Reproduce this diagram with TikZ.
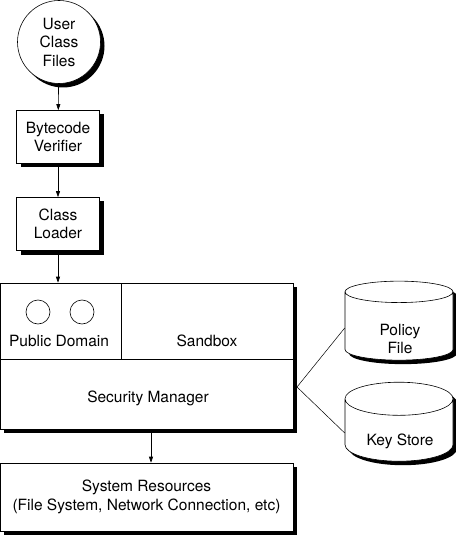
\documentclass[tikz,border=0pt]{standalone}
\usepackage{fontspec}
\setmainfont{TeX Gyre Heros}
\usetikzlibrary{positioning, arrows.meta, shapes.geometric, shadows}

\tikzset{
  shd/.style={drop shadow={shadow xshift=4pt, shadow yshift=-4pt, fill=black, opacity=1}},
}

\begin{document}
\begin{tikzpicture}[
  x=1pt, y=-1pt,
  font=\fontsize{15.5}{18.5}\selectfont,
  stepbox/.style={
    rectangle, draw, fill=white, line width=0.6pt, shd,
    minimum width=83pt, minimum height=53pt, align=center
  },
  srcfile/.style={
    circle, draw, fill=white, line width=0.6pt, shd,
    minimum size=83pt, inner sep=0pt, align=center
  },
  store/.style={
    cylinder, shape border rotate=90, draw, fill=white, line width=0.6pt, shd,
    aspect=0.45, minimum width=108pt, minimum height=79pt, align=center
  },
  domobj/.style={circle, draw, line width=0.6pt, minimum size=24pt, inner sep=0pt},
  arr/.style={-{Triangle[length=6pt, width=4pt]}, line width=0.6pt},
  link/.style={line width=0.5pt},
]
\useasboundingbox (0,0) rectangle (455,537);

% Ablauf
\node[srcfile] (userfiles) at (59,42) {User\\Class\\Files};
\node[stepbox] (verifier) at (58,137) {Bytecode\\Verifier};
\node[stepbox] (loader) at (58,224) {Class\\Loader};

% Security block
\node[rectangle, draw, fill=white, line width=0.6pt, shd,
      minimum width=293pt, minimum height=146pt] (mainbox) at (146.5,356) {};
\draw[line width=0.6pt] (0,359) -- (293,359);
\draw[line width=0.6pt] (121,283) -- (121,359);
\node[domobj] (objA) at (38,312) {};
\node[domobj] (objB) at (82,312) {};
\node (pubdom) at (59,341) {Public Domain};
\node (sandbox) at (207,341) {Sandbox};
\node (secmgr) at (148,398) {Security Manager};
\coordinate (hub) at (297,387);

\node[rectangle, draw, fill=white, line width=0.6pt, shd,
      minimum width=293pt, minimum height=68pt, align=center] (sysres) at (146.5,497)
  {System Resources\\(File System, Network Connection, etc)};

% Stores
\node[store] (policy) at (399,328) {\phantom{Policy}\\\phantom{File}};
\node[align=center] (policytxt) at (400,339) {Policy\\File};
\node[store] (keystore) at (399,433) {\phantom{Key Store}};
\node (keytxt) at (400,441) {Key Store};

% Arrows
\draw[arr] (userfiles) -- (verifier);
\draw[arr] (verifier) -- (loader);
\draw[arr] (loader) -- (loader |- mainbox.north);
\draw[arr] (mainbox.south -| 151,0) -- (sysres.north -| 151,0);
\draw[link] (hub) -- (policy.west);
\draw[link] (hub) -- (keystore.west);

\end{tikzpicture}
\end{document}
